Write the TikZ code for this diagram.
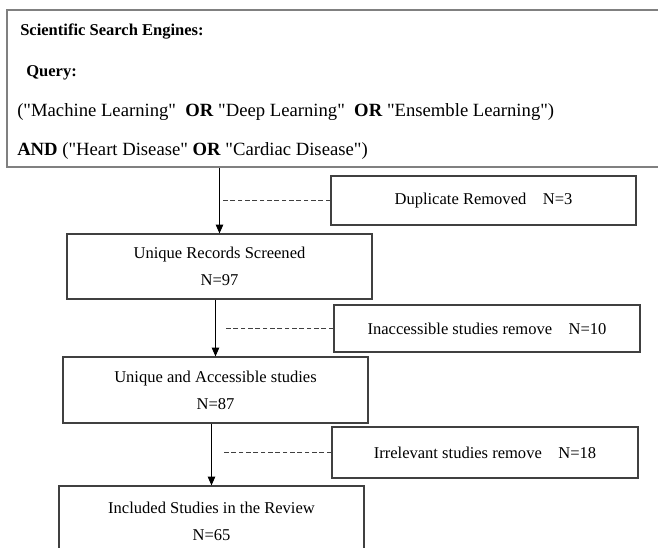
\documentclass[tikz,border=0pt]{standalone}
\usepackage{fontspec}
\setmainfont{Liberation Serif}
\newfontfamily\tnr{Liberation Serif}
\usetikzlibrary{arrows.meta}
\begin{document}
\begin{tikzpicture}[x=0.75pt,y=-0.75pt,
  box/.style={draw=black!75, line width=0.9pt, inner sep=0pt, align=center,
    font=\fontsize{12.4}{20.25}\selectfont},
  qbox/.style={draw=black!50, line width=1.2pt, inner sep=0pt},
  qtext/.style={anchor=west, inner sep=0pt},
  arr/.style={draw=black, line width=0.8pt, -{Triangle[length=6.5pt,width=5.5pt]}},
  dline/.style={draw=black!75, line width=0.9pt, dash pattern=on 3.5pt off 2pt}]
\useasboundingbox (0,0) rectangle (658,548);
% query box (right edge runs off the page)
\node[qbox, minimum width={663*0.75pt}, minimum height={157*0.75pt}] (query) at (338.5,88.5) {};
\node[qtext, font=\fontsize{12.4}{14}\selectfont\bfseries] (q1) at (20,32) {Scientific Search Engines:};
\node[qtext, font=\fontsize{12.4}{14}\selectfont\bfseries] (q2) at (26,73) {Query:};
\node[qtext, font=\tnr\fontsize{14}{17}\selectfont] (q3) at (17,112)
  {("Machine Learning"\ \ \textbf{OR} "Deep Learning"\ \ \textbf{OR} "Ensemble Learning")};
\node[qtext, font=\tnr\fontsize{14}{17}\selectfont] (q4) at (17,151)
  {\textbf{AND} ("Heart Disease" \textbf{OR} "Cardiac Disease")};
% main column
\node[box, minimum width={305*0.75pt}, minimum height={65*0.75pt}] (urs) at (219.5,266.5)
  {Unique Records Screened\\N=97};
\node[box, minimum width={305*0.75pt}, minimum height={66*0.75pt}] (uas) at (215.5,390)
  {Unique and Accessible studies\\N=87};
\node[box, minimum width={305*0.75pt}, minimum height={71*0.75pt}] (inc) at (211.5,521.5)
  {Included Studies in the Review\\N=65};
% side boxes
\node[box, minimum width={305*0.75pt}, minimum height={49*0.75pt}] (dup) at (483.5,200.5)
  {Duplicate Removed\quad N=3};
\node[box, minimum width={306*0.75pt}, minimum height={47*0.75pt}] (inacc) at (487,328.5)
  {Inaccessible studies remove\quad N=10};
\node[box, minimum width={306*0.75pt}, minimum height={51*0.75pt}] (irr) at (485,452.5)
  {Irrelevant studies remove\quad N=18};
% arrows
\draw[arr] (query.south -| urs.north) -- (urs.north);
\draw[arr] (urs.south -| uas.north) -- (uas.north);
\draw[arr] (uas.south -| inc.north) -- (inc.north);
% dashed links
\draw[dline] (dup.west) -- ([xshift=2.5pt]dup.west -| urs.north);
\draw[dline] (inacc.west) -- ([xshift=8pt]inacc.west -| uas.north);
\draw[dline] (irr.west) -- ([xshift=9pt]irr.west -| inc.north);
\end{tikzpicture}
\end{document}
